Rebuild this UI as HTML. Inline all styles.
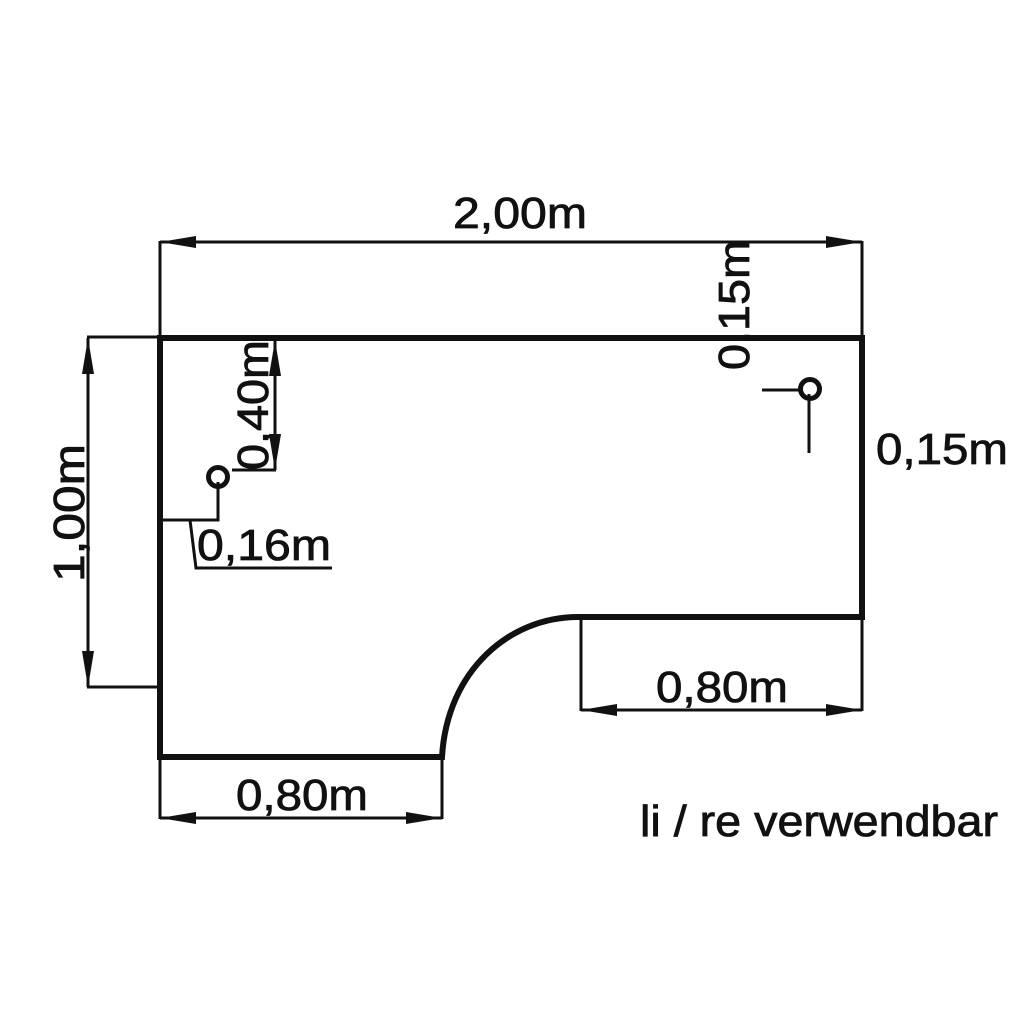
<!DOCTYPE html>
<html><head><meta charset="utf-8"><style>html,body{margin:0;padding:0;background:#fff}svg{display:block}</style></head>
<body>
<svg width="1024" height="1024" viewBox="0 0 1024 1024" xmlns="http://www.w3.org/2000/svg" font-family="Liberation Sans, Arial, sans-serif" fill="#111">
<defs>
<marker id="a" viewBox="0 0 36 12" refX="36" refY="6" markerWidth="36" markerHeight="12" markerUnits="userSpaceOnUse" orient="auto-start-reverse"><path d="M0,0 L36,6 L0,12 Z" fill="#111"/></marker>
</defs>
<g stroke="#111" fill="none">
<path d="M160,338 L862,338 L862,617 L578,617 C510,617 447,670 442,757 L160,757 Z" stroke-width="6"/>
<line x1="160" y1="242" x2="862" y2="242" stroke-width="3" marker-start="url(#a)" marker-end="url(#a)"/>
<line x1="160" y1="241" x2="160" y2="338" stroke-width="3"/>
<line x1="862" y1="241" x2="862" y2="338" stroke-width="3"/>
<line x1="88" y1="338" x2="88" y2="687" stroke-width="3" marker-start="url(#a)" marker-end="url(#a)"/>
<line x1="87" y1="337" x2="160" y2="337" stroke-width="3"/>
<line x1="87" y1="687" x2="160" y2="687" stroke-width="3"/>
<line x1="275" y1="340" x2="275" y2="470" stroke-width="3" marker-start="url(#a)" marker-end="url(#a)"/>
<line x1="232" y1="470" x2="276" y2="470" stroke-width="3"/>
<circle cx="218" cy="477" r="9.5" stroke-width="5"/>
<polyline points="218,482 218,520 160,520" stroke-width="3"/>
<polyline points="190,520 196,568 332,568" stroke-width="3"/>
<circle cx="810" cy="389" r="9.5" stroke-width="5"/>
<line x1="762" y1="390" x2="801" y2="390" stroke-width="3"/>
<line x1="809" y1="394" x2="809" y2="453" stroke-width="3"/>
<line x1="581" y1="710" x2="862" y2="710" stroke-width="3" marker-start="url(#a)" marker-end="url(#a)"/>
<line x1="581" y1="617" x2="581" y2="711" stroke-width="3"/>
<line x1="862" y1="617" x2="862" y2="711" stroke-width="3"/>
<line x1="160" y1="818" x2="442" y2="818" stroke-width="3" marker-start="url(#a)" marker-end="url(#a)"/>
<line x1="160" y1="757" x2="160" y2="819" stroke-width="3"/>
<line x1="442" y1="757" x2="442" y2="819" stroke-width="3"/>
</g>
<g font-size="44" stroke="#111" stroke-width="0.8">
<text x="453" y="228" textLength="134" lengthAdjust="spacingAndGlyphs">2,00m</text>
<text transform="translate(84,513) rotate(-90)" text-anchor="middle" textLength="138" lengthAdjust="spacingAndGlyphs">1,00m</text>
<text transform="translate(268,405) rotate(-90)" text-anchor="middle" textLength="130" lengthAdjust="spacingAndGlyphs">0,40m</text>
<text transform="translate(749,305) rotate(-90)" text-anchor="middle" textLength="130" lengthAdjust="spacingAndGlyphs">0,15m</text>
<text x="197" y="560" textLength="134" lengthAdjust="spacingAndGlyphs">0,16m</text>
<text x="876" y="464" textLength="132" lengthAdjust="spacingAndGlyphs">0,15m</text>
<text x="656" y="702" textLength="132" lengthAdjust="spacingAndGlyphs">0,80m</text>
<text x="236" y="810" textLength="132" lengthAdjust="spacingAndGlyphs">0,80m</text>
<text x="640" y="836" textLength="358" lengthAdjust="spacingAndGlyphs">li / re verwendbar</text>
</g>
</svg>
</body></html>
